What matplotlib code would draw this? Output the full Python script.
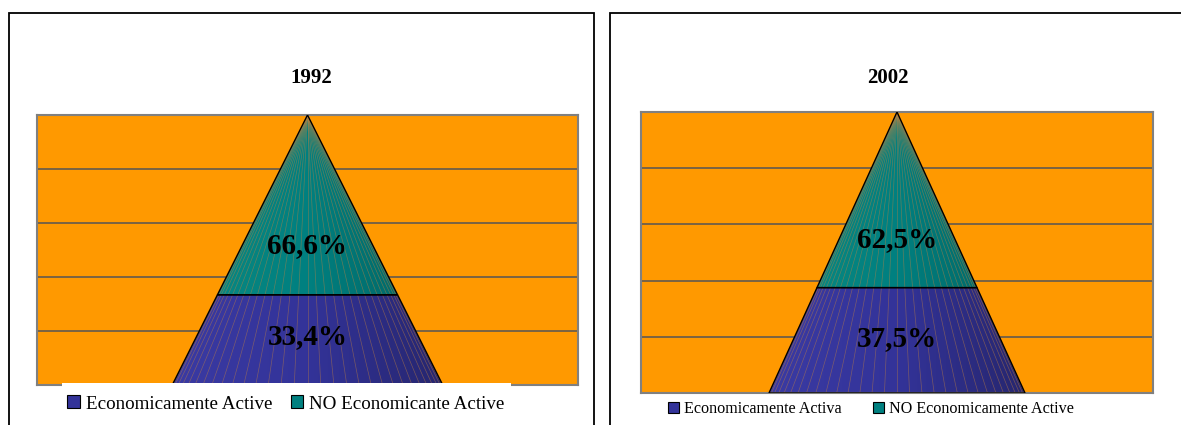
import numpy as np
import matplotlib
matplotlib.use("Agg")
import matplotlib.pyplot as plt
from matplotlib.patches import Polygon, Patch, Rectangle
from matplotlib.colors import LinearSegmentedColormap


# =========================
# Data
# =========================

YEARS = ["1992", "2002"]
ACTIVE = [33.4, 37.5]
NOT_ACTIVE = [66.6, 62.5]
ACTIVE_LABELS = ["33,4%", "37,5%"]
NOT_ACTIVE_LABELS = ["66,6%", "62,5%"]
LEGEND_ACTIVE = ["Economicamente Active", "Economicamente Activa"]
LEGEND_NOT_ACTIVE = ["NO Economicante Active", "NO Economicamente Active"]

# =========================
# Style
# =========================

W, H = 1181, 425
ORANGE = "#FF9900"
BLUE = "#333399"
TEAL = "#008080"
BLUE_MAP = LinearSegmentedColormap.from_list("b", ["#3a3aa3", "#333399", "#26266f"])
TEAL_MAP = LinearSegmentedColormap.from_list("t", ["#0b8a82", "#008080", "#006060"])

plt.rcParams["font.family"] = ["Liberation Serif", "DejaVu Serif"]

# pixel boxes: panel (left, top, right), plot area (left, top, right, bottom)
PANELS = [(9, 13, 594), (610, 13, 1200)]
PLOTS = [(37, 115, 578, 385), (641, 112, 1153, 393)]
TITLE_POS = [(311, 78), (888, 78)]
LEGEND_X = [286, 871]
LEGEND_Y = [404, 409]
LEGEND_SIZE = [13.7, 11.6]
LEGEND_GAP = [1.0, 2.0]


def fx(px):
    return px / W


def fy(py):
    return 1 - py / H


def draw_segment(ax, y0, y1, cmap, half_base=0.5):
    # trapezoid of the pyramid between y0 and y1 (percent of height)
    w0 = half_base * (1 - y0 / 100)
    w1 = half_base * (1 - y1 / 100)
    pts = [(-w0, y0), (w0, y0), (w1, y1), (-w1, y1)]
    poly = Polygon(pts, closed=True, facecolor="none", edgecolor="black",
                   lw=1.0, zorder=4)
    ax.add_patch(poly)
    grad = np.linspace(0, 1, 256).reshape(1, -1)
    im = ax.imshow(grad, cmap=cmap, extent=(-half_base, half_base, y0, y1),
                   aspect="auto", zorder=2, origin="lower")
    im.set_clip_path(poly)
    # faint facet lines running to the apex
    for t in np.linspace(-np.pi / 2, np.pi / 2, 33)[1:-1]:
        xb = half_base * np.sin(t)
        ln, = ax.plot([xb, 0], [0, 100], color="#c08040", lw=0.5,
                      alpha=0.5, zorder=3)
        ln.set_clip_path(poly)


fig = plt.figure(figsize=(W / 100, H / 100), dpi=100)

for i in range(2):
    pl, pt, pr = PANELS[i]
    fig.patches.append(Rectangle((fx(pl), -0.1), fx(pr) - fx(pl), fy(pt) + 0.1,
                                 transform=fig.transFigure, facecolor="white",
                                 edgecolor="black", lw=1.3, zorder=-1))

    l, t, r, b = PLOTS[i]
    ax = fig.add_axes([fx(l), fy(b), fx(r) - fx(l), fy(t) - fy(b)])
    ax.set_facecolor(ORANGE)
    ax.set_xlim(-1, 1)
    ax.set_ylim(0, 100)
    ax.set_xticks([])
    ax.set_yticks([20, 40, 60, 80])
    ax.tick_params(left=False, labelleft=False)
    ax.grid(axis="y", color="#555555", lw=1.1, zorder=1)
    ax.set_axisbelow(True)
    for s in ax.spines.values():
        s.set_color("#808080")
        s.set_linewidth(1.5)

    draw_segment(ax, 0, ACTIVE[i], BLUE_MAP)
    draw_segment(ax, ACTIVE[i], ACTIVE[i] + NOT_ACTIVE[i], TEAL_MAP)

    ax.text(0, ACTIVE[i] * 0.45, ACTIVE_LABELS[i], ha="center",
            va="baseline", fontsize=21, fontweight="bold", zorder=6)
    ax.text(0, ACTIVE[i] + NOT_ACTIVE[i] * 0.23, NOT_ACTIVE_LABELS[i],
            ha="center", va="baseline", fontsize=21, fontweight="bold",
            zorder=6)

    tx, ty = TITLE_POS[i]
    fig.text(fx(tx), fy(ty), YEARS[i], ha="center", va="center",
             fontsize=15, fontweight="bold")

    handles = [Patch(facecolor=BLUE, edgecolor="black", lw=0.8,
                     label=LEGEND_ACTIVE[i]),
               Patch(facecolor=TEAL, edgecolor="black", lw=0.8,
                     label=LEGEND_NOT_ACTIVE[i])]
    if i == 0:
        fig.patches.append(Rectangle((fx(62), -0.1), fx(511) - fx(62),
                                     fy(383) + 0.1, transform=fig.transFigure,
                                     facecolor="white", edgecolor="none",
                                     zorder=5))
    fig.legend(handles=handles, loc="center",
               bbox_to_anchor=(fx(LEGEND_X[i]), fy(LEGEND_Y[i])),
               ncol=2, frameon=False, fontsize=LEGEND_SIZE[i],
               handlelength=0.65, handleheight=0.65, handletextpad=0.3,
               columnspacing=LEGEND_GAP[i], borderpad=0)

fig.savefig("out.png", dpi=100)
